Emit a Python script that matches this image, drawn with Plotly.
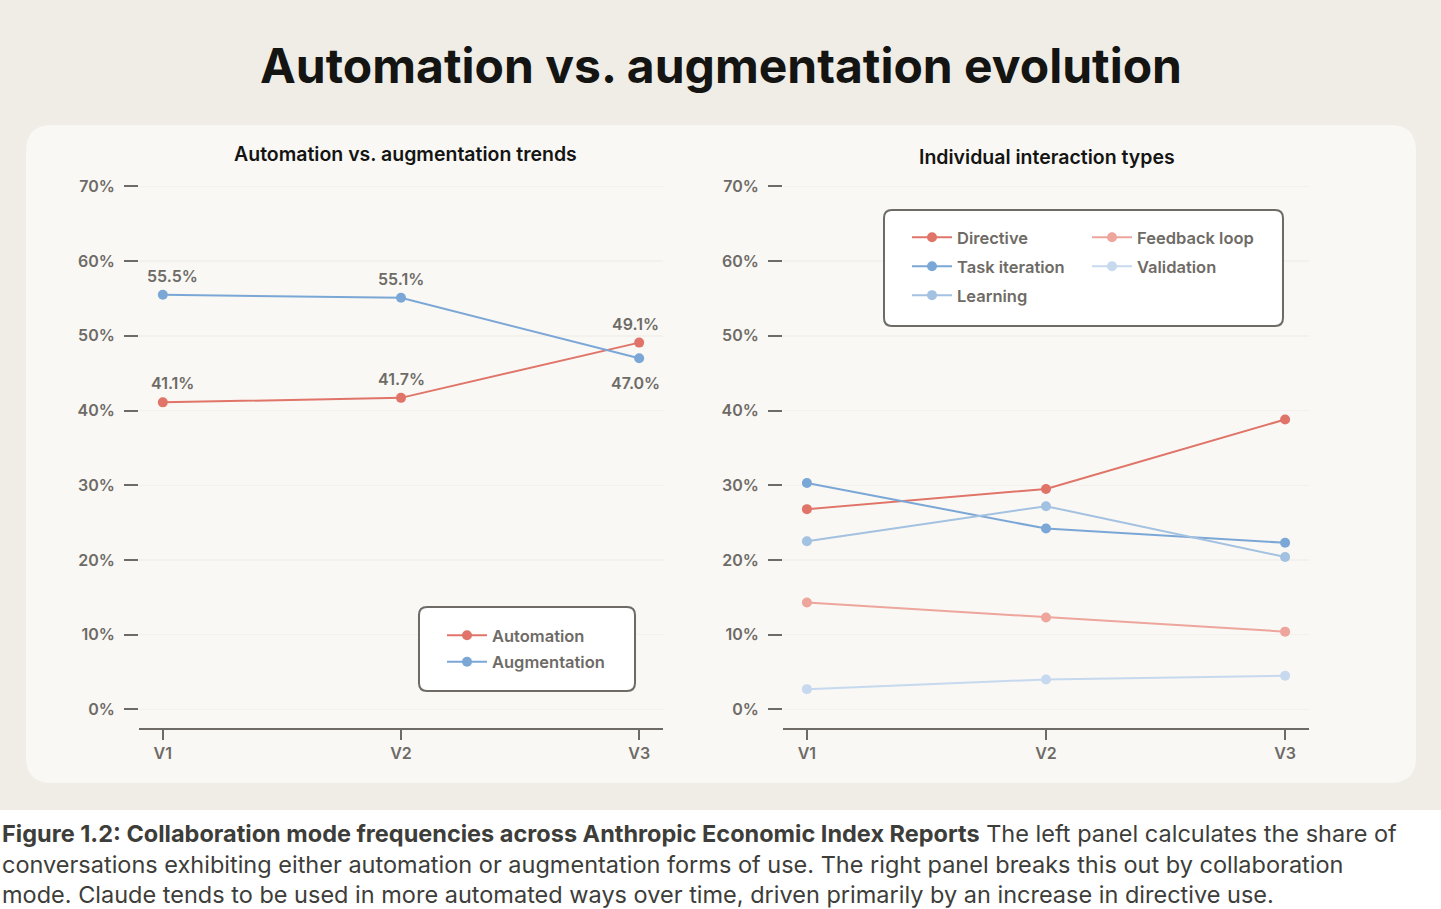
import plotly.graph_objects as go

# ---------------- data ----------------
versions = ["V1", "V2", "V3"]
y_ticks = [0, 10, 20, 30, 40, 50, 60, 70]

automation = [41.1, 41.7, 49.1]
augmentation = [55.5, 55.1, 47.0]

directive = [26.8, 29.5, 38.8]
task_iteration = [30.3, 24.2, 22.3]
learning = [22.5, 27.2, 20.4]
feedback_loop = [14.3, 12.3, 10.4]
validation = [2.7, 4.0, 4.5]

# ---------------- style ----------------
W, H = 1441, 909
FONT = "Inter"
GRAY = "#6e6b66"
RED = "#e07468"
BLUE = "#7ba7d6"
LBLUE = "#a3c1e0"
PINK = "#eda59c"
PALE = "#c6d9ee"


def px(x):
    return x / W


def py(y):
    return 1 - y / H


def rrect(x0, y0, x1, y1, r):
    pts = [
        ("M", [(x0 + r, y0)]),
        ("L", [(x1 - r, y0)]),
        ("Q", [(x1, y0), (x1, y0 + r)]),
        ("L", [(x1, y1 - r)]),
        ("Q", [(x1, y1), (x1 - r, y1)]),
        ("L", [(x0 + r, y1)]),
        ("Q", [(x0, y1), (x0, y1 - r)]),
        ("L", [(x0, y0 + r)]),
        ("Q", [(x0, y0), (x0 + r, y0)]),
    ]
    s = ""
    for cmd, p in pts:
        s += cmd + " " + " ".join(f"{px(a):.5f},{py(b):.5f}" for a, b in p) + " "
    return s + "Z"


fig = go.Figure()

left_series = [("Automation", automation, RED), ("Augmentation", augmentation, BLUE)]
for name, vals, col in left_series:
    fig.add_trace(go.Scatter(
        x=versions, y=vals, name=name, mode="lines+markers",
        line=dict(color=col, width=2), marker=dict(color=col, size=10),
        xaxis="x", yaxis="y", legend="legend", legendgroup=name,
        hoverinfo="skip",
    ))

right_series = [
    ("Directive", directive, RED, "legend2"),
    ("Task iteration", task_iteration, BLUE, "legend2"),
    ("Learning", learning, LBLUE, "legend2"),
    ("Feedback loop", feedback_loop, PINK, "legend3"),
    ("Validation", validation, PALE, "legend3"),
]
for name, vals, col, lg in right_series:
    fig.add_trace(go.Scatter(
        x=versions, y=vals, name=name, mode="lines+markers",
        line=dict(color=col, width=2), marker=dict(color=col, size=10),
        xaxis="x2", yaxis="y2", legend=lg, legendgroup=name,
        hoverinfo="skip",
    ))

# data labels for left panel
label_font = dict(family=FONT, size=16, color=GRAY, weight=600)
annotations = []
for vals, pos in [(automation, ["top", "top", "top"]), (augmentation, ["top", "top", "bottom"])]:
    for i, (v, p) in enumerate(zip(vals, pos)):
        annotations.append(dict(
            x=versions[i], y=v, xref="x", yref="y", text=f"{v:.1f}%",
            showarrow=False, font=label_font,
            yanchor="bottom" if p == "top" else "top",
            yshift=7 if p == "top" else -13,
            xshift=[10, 0, -4][i],
        ))

# titles
annotations.append(dict(
    x=0.5, y=py(65), xref="paper", yref="paper", showarrow=False,
    text="Automation vs. augmentation evolution",
    font=dict(family=FONT, size=48, color="#141413", weight=700),
    xanchor="center", yanchor="middle",
))
annotations.append(dict(
    x=px(405), y=py(154), xref="paper", yref="paper", showarrow=False,
    text="Automation vs. augmentation trends",
    font=dict(family=FONT, size=19.5, color="#141413", weight=600),
    xanchor="center", yanchor="middle",
))
annotations.append(dict(
    x=px(1047), y=py(157), xref="paper", yref="paper", showarrow=False,
    text="Individual interaction types",
    font=dict(family=FONT, size=19.5, color="#141413", weight=600),
    xanchor="center", yanchor="middle",
))
caption = (
    "<b>Figure 1.2: Collaboration mode frequencies across Anthropic Economic Index Reports</b>"
    " The left panel calculates the share of<br>"
    "conversations exhibiting either automation or augmentation forms of use. The right panel breaks this out by collaboration<br>"
    "mode. Claude tends to be used in more automated ways over time, driven primarily by an increase in directive use."
)
annotations.append(dict(
    x=0, y=py(817), xref="paper", yref="paper", showarrow=False,
    text=caption, align="left",
    font=dict(family=FONT, size=23.5, color="#3d3d3a"),
    xanchor="left", yanchor="top",
))

shapes = [
    dict(type="rect", xref="paper", yref="paper", x0=0, x1=1, y0=py(810), y1=1,
         fillcolor="#f0ede6", line=dict(width=0), layer="below"),
    dict(type="path", xref="paper", yref="paper", path=rrect(26, 125, 1416, 783, 26),
         fillcolor="#f9f8f5", line=dict(width=0), layer="below"),
    dict(type="path", xref="paper", yref="paper", path=rrect(419, 607, 635, 691, 8),
         fillcolor="white", line=dict(width=2, color=GRAY), layer="above"),
    dict(type="path", xref="paper", yref="paper", path=rrect(884, 210, 1283, 326, 8),
         fillcolor="white", line=dict(width=2, color=GRAY), layer="above"),
]

tick_font = dict(family=FONT, size=16, color=GRAY, weight=600)


def xaxis(domain, anchor):
    return dict(
        domain=domain, anchor=anchor, type="category", range=[-0.1, 2.1],
        showgrid=False, zeroline=False, showline=True, linecolor=GRAY, linewidth=2,
        ticks="outside", ticklen=10, tickwidth=2, tickcolor=GRAY, tickfont=tick_font,
        fixedrange=True,
    )


def yaxis(anchor):
    return dict(
        domain=[py(728), py(185)], anchor=anchor, range=[-2.5, 70.2],
        tickvals=y_ticks, ticktext=[f"{t}%" for t in y_ticks],
        showgrid=True, gridcolor="#f3f1ec", gridwidth=1.5, zeroline=False, showline=False,
        ticks="outside", ticklen=14, tickwidth=2, tickcolor=GRAY, tickfont=tick_font,
        ticklabelstandoff=6, fixedrange=True,
    )


legend_font = dict(family=FONT, size=16.5, color=GRAY, weight=600)
common_leg = dict(bgcolor="rgba(0,0,0,0)", borderwidth=0, font=legend_font,
                  xanchor="left", yanchor="top", orientation="v", traceorder="grouped",
                  itemwidth=40, itemclick=False, itemdoubleclick=False)

fig.update_layout(
    width=W, height=H,
    margin=dict(l=0, r=0, t=0, b=0, pad=0, autoexpand=False),
    paper_bgcolor="white", plot_bgcolor="white",
    xaxis=xaxis([px(139), px(663)], "y"),
    yaxis=yaxis("x"),
    xaxis2=xaxis([px(783), px(1309)], "y2"),
    yaxis2=yaxis("x2"),
    legend=dict(x=px(442), y=py(618), tracegroupgap=2, **common_leg),
    legend2=dict(x=px(907), y=py(220), tracegroupgap=4.5, **common_leg),
    legend3=dict(x=px(1087), y=py(220), tracegroupgap=4.5, **common_leg),
    annotations=annotations, shapes=shapes,
    showlegend=True,
)

post = (
    "document.documentElement.style.margin='0';"
    "document.body.style.margin='0';document.body.style.padding='0';"
    "document.body.style.background='#f0ede6';"
    "var d=document.getElementById('{plot_id}');"
    "d.style.position='absolute';d.style.top='0px';d.style.left='0px';"
)
fig.write_html("out.html", config={"displayModeBar": False, "staticPlot": True},
               post_script=post)
